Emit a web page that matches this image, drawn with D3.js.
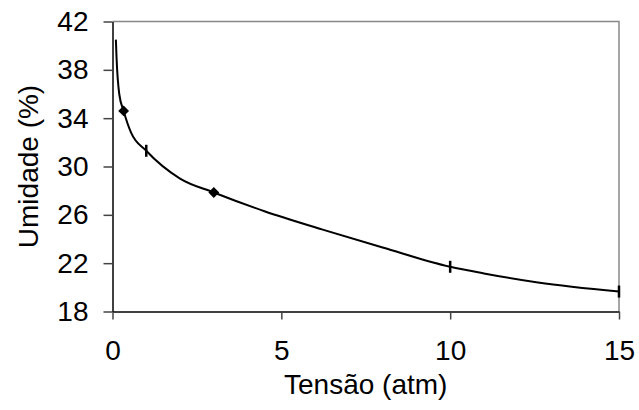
<!DOCTYPE html>
<html>
<head>
<meta charset="utf-8">
<script src="https://cdn.jsdelivr.net/npm/d3@7"></script>
<style>
  body { margin: 0; background: #fff; }
  text { font-family: "Liberation Sans", Arial, sans-serif; fill: #000; }
</style>
</head>
<body>
<script>
// curve (tensão in atm, umidade in %)
var curveX = [0.1, 0.12, 0.2, 0.33, 0.55, 1.0, 2.0, 3.0, 4.5, 6.2, 8.0, 10.0, 11.0, 12.6, 15.0];
var curveY = [40.5, 39.0, 36.0, 34.6, 32.8, 31.3, 29.0, 27.85, 26.3, 24.8, 23.3, 21.7, 21.15, 20.4, 19.65];

// marked points
var diamondX = [0.33, 3.0];
var diamondY = [34.6, 27.85];
var dashX = [1.0, 10.0, 15.0];
var dashY = [31.3, 21.7, 19.65];

var xTicks = [0, 5, 10, 15];
var yTicks = [18, 22, 26, 30, 34, 38, 42];

var margin = {top: 21.5, right: 20, bottom: 98.5, left: 112.5},
    width = 639 - margin.left - margin.right,
    height = 410 - margin.top - margin.bottom;

var svg = d3.select('body')
    .append('svg')
    .attr('width', 639)
    .attr('height', 410)
    .append('g')
    .attr('transform', 'translate(' + margin.left + ',' + margin.top + ')');

var x = d3.scaleLinear().domain([0, 15]).range([0, width]);
var y = d3.scaleLinear().domain([18, 42]).range([height, 0]);

// frame (top and right)
svg.append('path')
    .attr('d', 'M0,0H' + width + 'V' + height)
    .attr('fill', 'none')
    .attr('stroke', '#888')
    .attr('stroke-width', 1.5);

// x axis
var xAxis = svg.append('g')
    .attr('transform', 'translate(0,' + height + ')')
    .call(d3.axisBottom(x).tickValues(xTicks).tickSize(8).tickPadding(21).tickSizeOuter(0));
xAxis.select('.domain').attr('stroke', '#000').attr('stroke-width', 1.5);
xAxis.selectAll('.tick line').attr('stroke', '#444').attr('stroke-width', 1.5);
xAxis.selectAll('.tick text').attr('font-size', '28px');

// y axis
var yAxis = svg.append('g')
    .call(d3.axisLeft(y).tickValues(yTicks).tickSize(9).tickPadding(15).tickSizeOuter(0));
yAxis.select('.domain').attr('stroke', '#000').attr('stroke-width', 1.5);
yAxis.selectAll('.tick line').attr('stroke', '#444').attr('stroke-width', 1.5);
yAxis.selectAll('.tick text').attr('font-size', '28px');

// axis titles
svg.append('text')
    .attr('x', width / 2)
    .attr('y', height + 82)
    .attr('text-anchor', 'middle')
    .attr('font-size', '28px')
    .text('Tensão (atm)');

svg.append('text')
    .attr('transform', 'rotate(-90)')
    .attr('x', -height / 2)
    .attr('y', -75)
    .attr('text-anchor', 'middle')
    .attr('font-size', '28px')
    .text('Umidade (%)');

// the curve
var line = d3.line()
    .x(function(d) { return x(d[0]); })
    .y(function(d) { return y(d[1]); })
    .curve(d3.curveMonotoneX);

svg.append('path')
    .datum(d3.zip(curveX, curveY))
    .attr('d', line)
    .attr('fill', 'none')
    .attr('stroke', '#000')
    .attr('stroke-width', 2);

// diamonds
svg.selectAll('.diamond')
    .data(d3.zip(diamondX, diamondY))
    .enter()
    .append('path')
    .attr('class', 'diamond')
    .attr('d', d3.symbol().type(d3.symbolDiamond2).size(75))
    .attr('transform', function(d) { return 'translate(' + x(d[0]) + ',' + y(d[1]) + ')'; })
    .attr('fill', '#000');

// vertical dash markers
svg.selectAll('.dash')
    .data(d3.zip(dashX, dashY))
    .enter()
    .append('line')
    .attr('class', 'dash')
    .attr('x1', function(d) { return x(d[0]); })
    .attr('x2', function(d) { return x(d[0]); })
    .attr('y1', function(d) { return y(d[1]) - 6; })
    .attr('y2', function(d) { return y(d[1]) + 6; })
    .attr('stroke', '#000')
    .attr('stroke-width', 2.5);
</script>
</body>
</html>
